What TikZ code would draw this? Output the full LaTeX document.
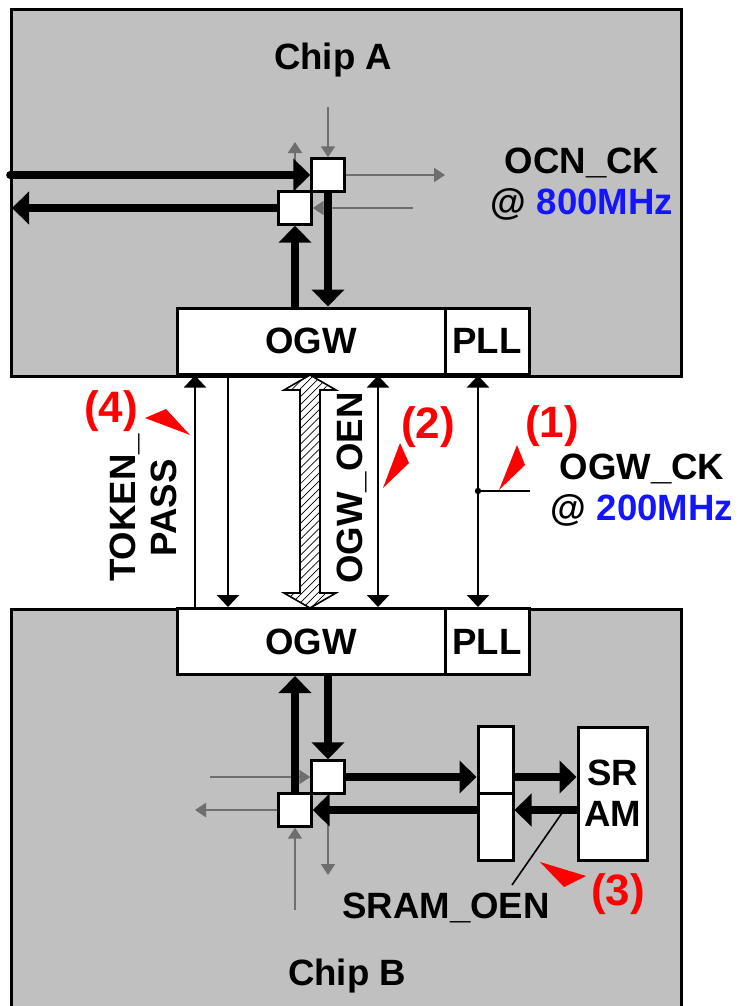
\documentclass[tikz,border=0pt]{standalone}
\usepackage{fontspec}
\setmainfont{Liberation Sans}
\usetikzlibrary{arrows.meta,patterns.meta,calc}
\definecolor{chipgray}{HTML}{C0C0C0}
\definecolor{wiregray}{HTML}{6E6E6E}
\definecolor{clkblue}{HTML}{1414FF}
\tikzset{
  lbl/.style={font=\bfseries\fontsize{18.3}{20.5}\selectfont, align=center, inner sep=0pt},
  tag/.style={font=\bfseries\fontsize{22}{24}\selectfont, text=red, inner sep=0pt},
  chip/.style={draw, line width=1.5pt, fill=chipgray, anchor=north west, inner sep=0pt},
  blk/.style={draw, line width=1.5pt, fill=white, inner sep=0pt, align=center,
    font=\bfseries\fontsize{18.3}{20.5}\selectfont, minimum height=33pt},
  rtr/.style={draw, line width=1.2pt, fill=white, minimum size=16.5pt, inner sep=0pt},
  bus/.style={line width=3.8pt, -{Triangle[width=16pt,length=8.5pt]}},
  sig/.style={line width=1pt, -{Triangle[width=11pt,length=6pt]}},
  sigb/.style={line width=1pt, {Triangle[width=11pt,length=6pt]}-{Triangle[width=11pt,length=6pt]}},
  lnk/.style={draw=wiregray, line width=1pt, -{Triangle[width=7pt,length=5.5pt]}},
  pointer/.style={fill=red}
}
\begin{document}
\begin{tikzpicture}[x=0.5pt,y=-0.5pt]
\useasboundingbox (0,0) rectangle (741,1006);
% chips
\node[chip, minimum width=335pt, minimum height=183.5pt] (chipA) at (10,8) {};
\node[chip, minimum width=335pt, minimum height=205pt] (chipB) at (10,608) {};
\node[lbl] (nameA) at (333,60) {Chip A};
\node[lbl] (nameB) at (347,976) {Chip B};

\node[blk, minimum width=134pt] (ogwA) at (311,341) {OGW};
\node[blk, minimum width=42pt] (pllA) at (487,341) {PLL};
\node[blk, minimum width=134pt] (ogwB) at (311,641.5) {OGW};
\node[blk, minimum width=42pt] (pllB) at (487,641.5) {PLL};

\node[blk, minimum width=17.5pt, minimum height=33.5pt] (colU) at (495.5,759.5) {};
\node[blk, minimum width=17.5pt, minimum height=33.5pt] (colL) at (495.5,826.5) {};
\node[blk, minimum width=34.5pt, minimum height=66.5pt] (sram) at (612.5,793.5) {SR\\AM};

% router links
\coordinate (a1) at (295,142);
\coordinate (a2) at (328,107);
\coordinate (a3) at (445,175);
\coordinate (a4) at (413,208);
\coordinate (b1) at (210,777);
\coordinate (b2) at (195,810);
\coordinate (b3) at (295,910);
\coordinate (b4) at (328,875);
\node[rtr] (ra1) at (328,175) {};
\node[rtr] (ra2) at (295,208) {};
\node[rtr] (rb1) at (328,777) {};
\node[rtr] (rb2) at (295,810) {};
\draw[lnk] (ra2.north) -- (a1);
\draw[lnk] (a2) -- (ra1.north);
\draw[lnk] (ra1.east) -- (a3);
\draw[lnk] (a4) -- (ra2.east);
\draw[lnk] (b1) -- (rb1.west);
\draw[lnk] (rb2.west) -- (b2);
\draw[lnk] (b3) -- (rb2.south);
\draw[lnk] (rb1.south) -- (b4);

\coordinate (inA) at (10,175);
\coordinate (outA) at (12,208);
\draw[bus, line cap=round] (inA) -- (ra1.west);
\draw[bus] (ra2.west) -- (outA);
\draw[bus] (ra2 |- ogwA.north) -- (ra2.south);
\draw[bus] (ra1.south) -- (ra1 |- ogwA.north);

\draw[bus] (rb2.north) -- (rb2 |- ogwB.south);
\draw[bus] (rb1 |- ogwB.south) -- (rb1.north);
\draw[bus] (rb1.east) -- (rb1.east -| colU.west);
\draw[bus] (colL.west |- rb2.east) -- (rb2.east);
\draw[bus] (colU.east |- rb1.east) -- (rb1.east -| sram.west);
\draw[bus] (sram.west |- rb2.east) -- (rb2.east -| colL.east);

% chip to chip
\coordinate (xtp) at (195,0);
\coordinate (xtk) at (228,0);
\coordinate (xoe) at (378,0);
\coordinate (xck) at (478,0);
\draw[sig] (xtp |- ogwB.north) -- (xtp |- ogwA.south);
\draw[sig] (xtk |- ogwA.south) -- (xtk |- ogwB.north);
\draw[sigb] (xoe |- ogwA.south) -- (xoe |- ogwB.north);
\draw[sigb] (xck |- pllA.south) -- (xck |- pllB.north);
\coordinate (ckdot) at (478,491);
\coordinate (ckend) at (530,491);
\draw[line width=1pt] (ckdot) -- (ckend);
\fill (ckdot) circle (1.6pt);
\draw[line width=0.8pt, fill=white,
  postaction={pattern={Lines[angle=45,distance=2.8pt,line width=0.35pt]}}]
  (310,375) -- (336,390) -- (320,390) -- (320,593) -- (336,593) -- (310,608)
  -- (284,593) -- (300,593) -- (300,390) -- (284,390) -- cycle;

% labels
\node[lbl, rotate=90] (tpLbl) at (143,508) {TOKEN\_\\PASS};
\node[lbl, rotate=90] (oenLbl) at (352,488) {OGW\_OEN};
\node[lbl] (ckLbl) at (642,490) {OGW\_CK\\@ \textcolor{clkblue}{200MHz}};
\node[lbl] (ocnLbl) at (582,184) {OCN\_CK\\@ \textcolor{clkblue}{800MHz}};
\node[lbl] (sramLbl) at (446,908) {SRAM\_OEN};
\coordinate (oen1) at (562,813);
\coordinate (oen2) at (512,885);
\draw[line width=0.8pt] (oen1) -- (oen2);

\node[tag] (tag1) at (552,426) {(1)};
\node[tag] (tag2) at (428,427) {(2)};
\node[tag] (tag3) at (618,894) {(3)};
\node[tag] (tag4) at (111,411) {(4)};
\fill[pointer] (517,445) -- (525,465) -- (499,490) -- cycle;
\fill[pointer] (400,443) -- (409,463) -- (383,488) -- cycle;
\fill[pointer] (540,862) -- (586,876) -- (564,887) -- cycle;
\fill[pointer] (145,418) -- (166,409) -- (190,435) -- cycle;
\end{tikzpicture}
\end{document}
